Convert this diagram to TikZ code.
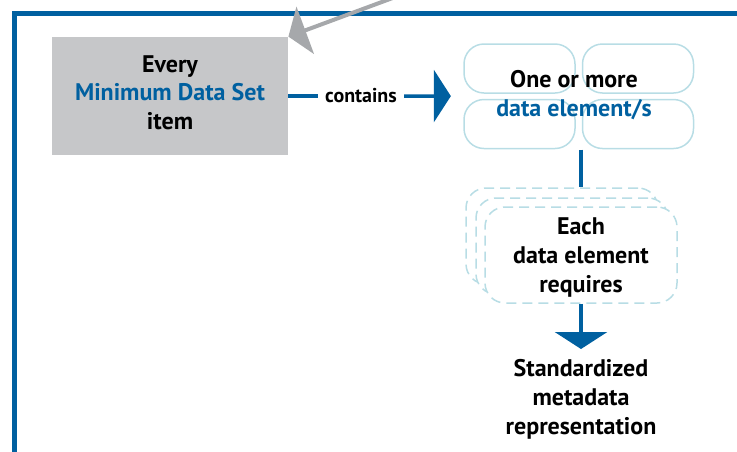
\documentclass[tikz,border=0pt]{standalone}
\usepackage{fontspec}
\setmainfont{PT Sans}
\usetikzlibrary{arrows.meta, positioning, fit}
\definecolor{mdsblue}{RGB}{0, 96, 160}
\definecolor{boxgray}{RGB}{198, 199, 201}
\definecolor{arrowgray}{RGB}{166, 168, 171}
\definecolor{elemcyan}{RGB}{184, 221, 229}

\begin{document}
\begin{tikzpicture}[x=0.5pt, y=-0.5pt,
    every node/.style={font=\bfseries\fontsize{12}{14.4}\selectfont, align=center},
    mdsbox/.style={fill=boxgray, minimum width=118pt, minimum height=59pt, inner sep=0pt},
    elembox/.style={draw=elemcyan, line width=0.75pt, rounded corners=10pt,
                    minimum width=55.5pt, minimum height=24.5pt, inner sep=0pt},
    eachbox/.style={draw=elemcyan, fill=white, line width=0.75pt, dash pattern=on 5pt off 3pt,
                    rounded corners=10pt, minimum width=96pt, minimum height=48pt, inner sep=0pt},
    flow/.style={draw=mdsblue, line width=1.75pt},
    bigtip/.style={-{Triangle[length=8.5pt, width=26pt]}}
  ]
  \useasboundingbox (0,0) rectangle (737,451);
  \clip (0,0) rectangle (737,451);

  % outer frame
  \draw[mdsblue, line width=2.5pt] (14.5,470) -- (14.5,13) -- (760,13);

  % minimum data set item
  \node[mdsbox, text depth=3.5pt] (mds) at (170,96) {Every\\\textcolor{mdsblue}{Minimum Data Set}\\item};
  \coordinate (src) at (398,-4);
  \draw[arrowgray, line width=2pt, -{Triangle[length=9pt, width=25pt]}] (src) -- (mds.north east);

  % data elements
  \node[elembox] (de1) at (519.5,68.5) {};
  \node[elembox] (de2) at (638,68.5) {};
  \node[elembox] (de3) at (519.5,124) {};
  \node[elembox] (de4) at (638,124) {};
  \node[fit=(de1)(de4), inner sep=0pt] (cluster) {};
  \node[inner sep=0pt] (elems) at (574,95) {One or more\\\textcolor{mdsblue}{data element/s}};

  \node[font=\bfseries\fontsize{10}{12}\selectfont, inner xsep=3.5pt] (contains) at (361,96) {contains};
  \draw[flow] (mds) -- (contains);
  \draw[flow, bigtip, shorten >=6pt] (contains) -- (cluster);

  % each data element
  \node[eachbox] (eachA) at (562,236) {};
  \node[eachbox] (eachB) at (572,246) {};
  \node[eachbox, text depth=0pt] (each) at (581,255) {Each\\data element\\requires};
  \draw[flow] (cluster.south -| each) -- (eachA.north -| each);

  % metadata
  \node[anchor=north, inner ysep=5pt] (std) at (581,349) {Standardized\\metadata\\representation};
  \draw[flow, bigtip] (each) -- (std);
\end{tikzpicture}
\end{document}
